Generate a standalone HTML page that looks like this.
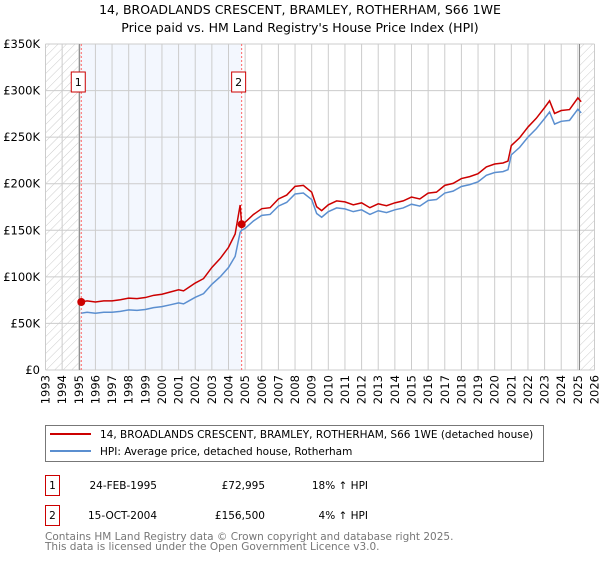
<!DOCTYPE html>
<html><head><meta charset="utf-8"><style>
body{margin:0;width:600px;height:560px;background:#fff;font-family:"DejaVu Sans","Liberation Sans",sans-serif;overflow:hidden}
svg text{font-family:"DejaVu Sans","Liberation Sans",sans-serif}
</style></head><body>
<svg id="chart" width="600" height="560" xmlns="http://www.w3.org/2000/svg">
<defs><pattern id="hatch" width="6" height="6" patternUnits="userSpaceOnUse" patternTransform="rotate(45)"><line x1="0" y1="0" x2="0" y2="6" stroke="#ccc" stroke-width="1"/></pattern></defs>
<text x="300" y="14" text-anchor="middle" font-size="12.5">14, BROADLANDS CRESCENT, BRAMLEY, ROTHERHAM, S66 1WE</text>
<text x="300" y="32" text-anchor="middle" font-size="12.5">Price paid vs. HM Land Registry's House Price Index (HPI)</text>
<g id="plot"></g>
<g>
<rect x="45.5" y="425.5" width="498" height="36" fill="#fff" stroke="#777"/>
<line x1="50" y1="434" x2="91" y2="434" stroke="#cc0000" stroke-width="2"/>
<text x="100" y="438" font-size="10.5">14, BROADLANDS CRESCENT, BRAMLEY, ROTHERHAM, S66 1WE (detached house)</text>
<line x1="50" y1="451" x2="91" y2="451" stroke="#5b8fd0" stroke-width="2"/>
<text x="100" y="455" font-size="10.5">HPI: Average price, detached house, Rotherham</text>
</g>
<g font-size="10.5">
<rect x="45.5" y="475.5" width="14" height="20" fill="#fff" stroke="#cc0000"/><text x="52.5" y="489" text-anchor="middle">1</text>
<text x="157" y="489" text-anchor="end">24-FEB-1995</text><text x="265" y="489" text-anchor="end">£72,995</text><text x="368" y="489" text-anchor="end">18% ↑ HPI</text>
<rect x="45.5" y="505.5" width="14" height="20" fill="#fff" stroke="#cc0000"/><text x="52.5" y="519" text-anchor="middle">2</text>
<text x="157" y="519" text-anchor="end">15-OCT-2004</text><text x="265" y="519" text-anchor="end">£156,500</text><text x="368" y="519" text-anchor="end">4% ↑ HPI</text>
</g>
<text x="45" y="540" font-size="10.5" fill="#777">Contains HM Land Registry data © Crown copyright and database right 2025.</text>
<text x="45" y="550" font-size="10.5" fill="#777">This data is licensed under the Open Government Licence v3.0.</text>
</svg>
<script>
const hpiYears=[1995.15,1995.5,1996,1996.5,1997,1997.5,1998,1998.5,1999,1999.5,2000,2000.5,2001,2001.3,2001.6,2002,2002.5,2003,2003.5,2004,2004.4,2004.7,2004.79,2005,2005.5,2006,2006.5,2007,2007.5,2008,2008.5,2009,2009.3,2009.6,2010,2010.5,2011,2011.5,2012,2012.5,2013,2013.5,2014,2014.5,2015,2015.5,2016,2016.5,2017,2017.5,2018,2018.5,2019,2019.5,2020,2020.5,2020.8,2021,2021.5,2022,2022.5,2023,2023.3,2023.6,2024,2024.5,2025,2025.2];
const hpiValues=[61,62,61,62,62,63,64.5,64,65,67,68,70,72,71,74,78,82,92,100,110,122,148,150,152,160,166,167,176,180,189,190,183,168,164,170,174,173,170,172,167,171,169,172,174,178,176,182,183,190,192,197,199,202,209,212,213,215,231,239,250,259,270,277,264,267,268,280,276];
const saleDates=[1995.15,2004.79];
const salePrices=[72.995,156.5];
const yTicks=[0,50,100,150,200,250,300,350];
const yTickLabels=["£0","£50K","£100K","£150K","£200K","£250K","£300K","£350K"];
const xMin=1993,xMax=2026;
const X=v=>45.5+(v-xMin)*(549/(xMax-xMin));
const Y=v=>370-v*(326/350);
const NS="http://www.w3.org/2000/svg";
const g=document.getElementById('plot');
function mk(t,a,p){const e=document.createElementNS(NS,t);for(const k in a)e.setAttribute(k,a[k]);(p||g).appendChild(e);return e;}
let e;
e=mk('rect',{x:X(1995.15),y:Y(350),width:X(2004.79)-X(1995.15),height:Y(0)-Y(350),fill:'#eef3fd',opacity:0.7});


e=mk('rect',{x:X(1993),y:Y(350),width:X(1995.15)-X(1993),height:Y(0)-Y(350),fill:'url(#hatch)'});


e=mk('rect',{x:X(2025.1),y:Y(350),width:X(2026)-X(2025.1),height:Y(0)-Y(350),fill:'url(#hatch)'});


for(let yr=xMin;yr<=xMax;yr++){
 e=mk('line',{x1:X(yr),x2:X(yr),y1:Y(350),y2:Y(0),stroke:'#ccc'});
 
 
 e=mk('text',{transform:`translate(${X(yr)+4},${Y(0)+5}) rotate(-90)`,'text-anchor':'end','font-size':11.5});
 e.textContent=yr;
 
 
}
yTicks.forEach((t,i)=>{
 e=mk('line',{x1:X(xMin),x2:X(xMax),y1:Y(t),y2:Y(t),stroke:'#ccc'});
 
 
 e=mk('text',{x:40,y:Y(t)+4,'text-anchor':'end','font-size':11.5});
 e.textContent=yTickLabels[i];
 
 
});
e=mk('line',{x1:X(1995.05),x2:X(1995.05),y1:Y(350),y2:Y(0),stroke:'#888'});


e=mk('line',{x1:X(2025.1),x2:X(2025.1),y1:Y(350),y2:Y(0),stroke:'#888'});


saleDates.forEach((d,i)=>{
 e=mk('line',{x1:X(d),x2:X(d),y1:Y(350),y2:Y(0),stroke:'#f66','stroke-dasharray':'2,2'});
 
 
 e=mk('rect',{x:X(d)-10,y:72,width:14,height:20,fill:'#fff',stroke:'#cc0000'});
 
 
 e=mk('text',{x:X(d)-3,y:86,'text-anchor':'middle','font-size':11});
 e.textContent=String(i+1);
 
 
});
e=mk('polyline',{points:hpiYears.map((y,i)=>X(y)+','+Y(hpiValues[i])).join(' '),fill:'none',stroke:'#5b8fd0','stroke-width':1.5});


const pts=[];
hpiYears.forEach((y,i)=>{
 let k=0;for(let j=0;j<saleDates.length;j++)if(y>=saleDates[j]-1e-6)k=j;
 const base=hpiValues[hpiYears.findIndex(v=>v>=saleDates[k]-1e-6)];
 const v=hpiValues[i]*salePrices[k]/base;
 pts.push(X(y)+','+Y(v));
});
e=mk('polyline',{points:pts.join(' '),fill:'none',stroke:'#cc0000','stroke-width':1.5});


saleDates.forEach((d,i)=>{
 e=mk('circle',{cx:X(d),cy:Y(salePrices[i]),r:4,fill:'#cc0000'});
 
 
});
</script>
</body></html>
